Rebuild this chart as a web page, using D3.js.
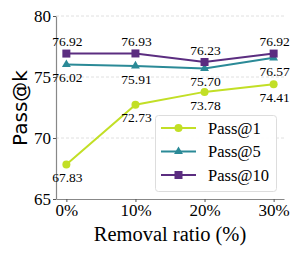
<!DOCTYPE html>
<html>
<head>
<meta charset="utf-8">
<script src="https://cdn.jsdelivr.net/npm/d3@7"></script>
<style>
  body { margin: 0; background: #fff; }
  svg { display: block; }
</style>
</head>
<body>
<svg id="chart"></svg>
<script>
// data
var ratios = ["0%", "10%", "20%", "30%"];
var pass1 = [67.83, 72.73, 73.78, 74.41];
var pass5 = [76.02, 75.91, 75.70, 76.57];
var pass10 = [76.92, 76.93, 76.23, 76.92];
var yTicks = [65, 70, 75, 80];
var seriesNames = ["Pass@1", "Pass@5", "Pass@10"];

var series = [
    {name: seriesNames[0], vals: pass1, color: "#c2df26", marker: "circle", labelPos: "below"},
    {name: seriesNames[1], vals: pass5, color: "#2b8a97", marker: "triangle", labelPos: "below"},
    {name: seriesNames[2], vals: pass10, color: "#5b2d80", marker: "square", labelPos: "above"}
];

var width = 301, height = 253;
var svg = d3.select("#chart").attr("width", width).attr("height", height);

var x = d3.scaleLinear().domain([-0.15, 3.15]).range([56, 284]);
var y = d3.scaleLinear().domain([65, 80]).range([199, 16]);

var serif = "'Liberation Serif', 'Times New Roman', serif";

// gridlines
svg.append("g").selectAll("line")
    .data(yTicks.slice(1))
    .enter().append("line")
    .attr("x1", x.range()[0]).attr("x2", x.range()[1])
    .attr("y1", function(d) { return y(d); })
    .attr("y2", function(d) { return y(d); })
    .attr("stroke", "#d8d8d8")
    .attr("stroke-width", 0.8)
    .attr("stroke-dasharray", "3,2");

// axes
var xAxis = d3.axisBottom(x).tickValues([0, 1, 2, 3])
    .tickFormat(function(d, i) { return ratios[i]; })
    .tickSize(3).tickSizeOuter(0);
var yAxis = d3.axisLeft(y).tickValues(yTicks).tickSize(3).tickSizeOuter(0);

var gx = svg.append("g").attr("transform", "translate(0," + y(65) + ")").call(xAxis);
var gy = svg.append("g").attr("transform", "translate(" + x.range()[0] + ",0)").call(yAxis);

[gx, gy].forEach(function(g) {
    g.select(".domain").attr("stroke", "#888").attr("stroke-width", 1.2);
    g.selectAll(".tick line").attr("stroke", "#555");
    g.selectAll(".tick text")
        .attr("font-family", serif)
        .attr("font-size", 17)
        .attr("fill", "#000");
});
gx.selectAll(".tick text").attr("dy", "0.65em");
gy.selectAll(".tick text").attr("x", -5);

// axis titles
svg.append("text")
    .attr("x", 170).attr("y", 241)
    .attr("text-anchor", "middle")
    .attr("font-family", serif)
    .attr("font-size", 20.5)
    .text("Removal ratio (%)");

svg.append("text")
    .attr("transform", "translate(26.5,108) rotate(-90)")
    .attr("text-anchor", "middle")
    .attr("font-family", "'DejaVu Sans', sans-serif")
    .attr("font-size", 20)
    .text("Pass@k");

var line = d3.line()
    .x(function(d, i) { return x(i); })
    .y(function(d) { return y(d); });

function drawMarker(g, type, color) {
    if (type === "circle") {
        g.append("circle").attr("r", 4).attr("fill", color);
    } else if (type === "triangle") {
        g.append("path").attr("d", d3.symbol().type(d3.symbolTriangle).size(34)).attr("fill", color);
    } else {
        g.append("rect").attr("x", -4).attr("y", -4).attr("width", 8).attr("height", 8).attr("fill", color);
    }
}

series.forEach(function(s) {
    svg.append("path")
        .datum(s.vals)
        .attr("d", line)
        .attr("fill", "none")
        .attr("stroke", s.color)
        .attr("stroke-width", 2);

    s.vals.forEach(function(v, i) {
        var m = svg.append("g").attr("transform", "translate(" + x(i) + "," + y(v) + ")");
        drawMarker(m, s.marker, s.color);
        svg.append("text")
            .attr("x", x(i) + 1)
            .attr("y", y(v) + (s.labelPos === "above" ? -12 : 13))
            .attr("dy", "0.35em")
            .attr("text-anchor", "middle")
            .attr("font-family", serif)
            .attr("font-size", 13.5)
            .text(v.toFixed(2));
    });
});

// legend
var lg = svg.append("g");
lg.append("rect")
    .attr("x", 155.5).attr("y", 115.5)
    .attr("width", 121).attr("height", 76)
    .attr("rx", 3)
    .attr("fill", "#fff").attr("fill-opacity", 0.9)
    .attr("stroke", "#ddd");

series.forEach(function(s, i) {
    var ly = 128 + i * 23.5;
    lg.append("line")
        .attr("x1", 161).attr("x2", 196)
        .attr("y1", ly).attr("y2", ly)
        .attr("stroke", s.color).attr("stroke-width", 2);
    var m = lg.append("g").attr("transform", "translate(178.5," + ly + ")");
    drawMarker(m, s.marker, s.color);
    lg.append("text")
        .attr("x", 208).attr("y", ly)
        .attr("dy", "0.35em")
        .attr("font-family", serif)
        .attr("font-size", 16.5)
        .text(s.name);
});
</script>
</body>
</html>
